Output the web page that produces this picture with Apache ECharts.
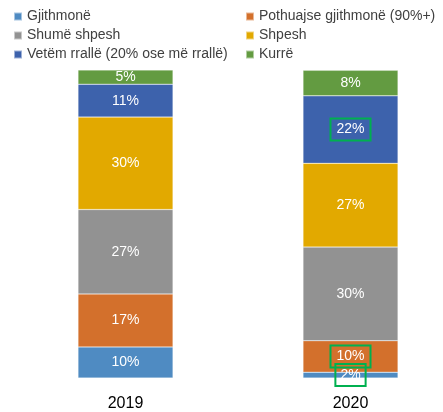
<!DOCTYPE html>
<html>
<head>
<meta charset="utf-8">
<style>
  html, body { margin: 0; padding: 0; background: #fff; }
  #chart { width: 443px; height: 412px; }
</style>
<script src="https://cdn.jsdelivr.net/npm/echarts@6/dist/echarts.min.js"></script>
</head>
<body>
<div id="chart"></div>
<script>
const years = ["2019", "2020"];
const seriesNames = [
  "Gjithmonë",
  "Pothuajse gjithmonë (90%+)",
  "Shumë shpesh",
  "Shpesh",
  "Vetëm rrallë (20% ose më rrallë)",
  "Kurrë",
];
// shares (labels are rounded)
const gjithmone = [10.1, 1.9];
const pothuajse = [17.2, 10.2];
const shumeShpesh = [27.4, 30.4];
const shpesh = [30.0, 27.2];
const rralle = [10.7, 21.9];
const kurre = [4.6, 8.3];
const values = [gjithmone, pothuajse, shumeShpesh, shpesh, rralle, kurre];
const colors = ["#4F8BC2", "#D3702C", "#929292", "#E2A900", "#3D62AC", "#639B41"];

// labels that carry a green box in 2020
const boxed = { 0: true, 1: true, 4: true };

const font = "Liberation Sans";
const chart = echarts.init(document.getElementById("chart"));

const series = seriesNames.map((name, i) => ({
  name,
  type: "bar",
  stack: "total",
  barWidth: 95,
  itemStyle: { color: colors[i], borderColor: "rgba(255,255,255,0.5)", borderWidth: 0.5 },
  label: {
    show: true,
    position: "inside",
    color: "#fff",
    fontFamily: font,
    fontSize: 14,
    formatter: (p) => Math.round(p.value) + "%",
  },
  data: values[i].map((v, j) => {
    if (j === 1 && boxed[i]) {
      return {
        value: v,
        label: {
          borderColor: "#00B050",
          borderWidth: 2,
          padding: i === 0 ? [4, 5] : [4, 6],
        },
      };
    }
    return v;
  }),
}));

const legendBase = {
  orient: "vertical",
  top: 9,
  padding: 0,
  itemWidth: 8,
  itemHeight: 8,
  itemGap: 4,
  icon: "rect",
  textStyle: { fontFamily: font, fontSize: 14, color: "#404040", lineHeight: 15 },
};

chart.setOption({
  animation: false,
  color: colors,
  legend: [
    Object.assign({}, legendBase, { left: 13, data: [seriesNames[0], seriesNames[2], seriesNames[4]] }),
    Object.assign({}, legendBase, { left: 245, data: [seriesNames[1], seriesNames[3], seriesNames[5]] }),
  ],
  grid: { left: 13, width: 450, top: 70, bottom: 34, outerBoundsMode: "none" },
  xAxis: {
    type: "category",
    data: years,
    axisLine: { show: false },
    axisTick: { show: false },
    axisLabel: { fontFamily: font, fontSize: 16, color: "#000", margin: 18 },
  },
  yAxis: { type: "value", min: 0, max: 100, show: false },
  series,
});
</script>
</body>
</html>
